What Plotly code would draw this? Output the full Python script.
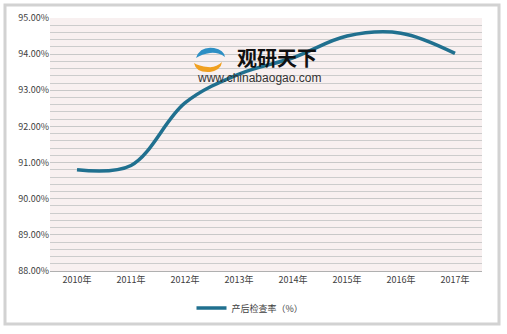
import plotly.graph_objects as go

years = ["2010年", "2011年", "2012年", "2013年", "2014年", "2015年", "2016年", "2017年"]
rate = [90.80, 90.92, 92.65, 93.45, 93.90, 94.50, 94.58, 94.02]
series_name = "产后检查率（%）"
y_ticks = [88, 89, 90, 91, 92, 93, 94, 95]
y_tick_text = ["88.00%", "89.00%", "90.00%", "91.00%", "92.00%", "93.00%", "94.00%", "95.00%"]

W, H = 507, 334
ML, MR, MT, MB = 50, 25, 18, 63
PW, PH = W - ML - MR, H - MT - MB


def px(x):
    return (x - ML) / PW


def py(y):
    return (H - MB - y) / PH


fig = go.Figure()
fig.add_trace(go.Scatter(
    x=years, y=rate, mode="lines", name=series_name,
    line=dict(color="#20708f", width=3.5, shape="spline", smoothing=1.0),
))

font_cn = "Noto Sans CJK SC"

fig.update_layout(
    width=W, height=H,
    margin=dict(l=ML, r=MR, t=MT, b=MB),
    paper_bgcolor="white",
    plot_bgcolor="#f8f0f0",
    showlegend=True,
    legend=dict(orientation="h", x=px(250), xanchor="center", y=py(308), yanchor="middle",
                itemwidth=30,
                font=dict(family=font_cn, size=9, color="#404040"), bgcolor="rgba(0,0,0,0)"),
    xaxis=dict(type="category", range=[-0.5, 7.5], showgrid=False, showline=True,
               linecolor="#b0b0b0", linewidth=1, ticks="",
               tickfont=dict(family=font_cn, size=9, color="#404040")),
    yaxis=dict(range=[88, 95], tickvals=y_ticks, ticktext=y_tick_text, showgrid=True,
               gridcolor="#c8c8c8", gridwidth=1, zeroline=False, showline=False, ticks="",
               tickfont=dict(family=font_cn, size=9, color="#404040"),
               minor=dict(dtick=0.2, tick0=88, showgrid=True, gridcolor="#cccccc", gridwidth=1)),
)

# outer frame
fig.add_shape(type="rect", xref="paper", yref="paper",
              x0=px(5), x1=px(499), y0=py(324), y1=py(5),
              line=dict(color="#d2d2d2", width=3), fillcolor="rgba(0,0,0,0)", layer="below")

# watermark logo (approximation)
fig.add_shape(type="path", xref="paper", yref="paper",
              path=f"M {px(196)},{py(58)} Q {px(200)},{py(46)} {px(214)},{py(48)} Q {px(224)},{py(50)} {px(225)},{py(57)} "
                   f"Q {px(218)},{py(52)} {px(210)},{py(53)} Q {px(202)},{py(54)} {px(196)},{py(58)} Z",
              line=dict(width=0), fillcolor="#2d8fc4")
fig.add_shape(type="path", xref="paper", yref="paper",
              path=f"M {px(194)},{py(63)} Q {px(196)},{py(73)} {px(210)},{py(72)} Q {px(221)},{py(70)} {px(222)},{py(62)} "
                   f"Q {px(216)},{py(68)} {px(208)},{py(67)} Q {px(199)},{py(66)} {px(194)},{py(63)} Z",
              line=dict(width=0), fillcolor="#f0a020")

fig.add_annotation(text="<b>观研天下</b>", xref="paper", yref="paper", x=px(277), y=py(58),
                   xanchor="center", yanchor="middle", showarrow=False,
                   font=dict(family=font_cn, size=20, color="#111111"))
fig.add_annotation(text="www.chinabaogao.com", xref="paper", yref="paper", x=px(259), y=py(78),
                   xanchor="center", yanchor="middle", showarrow=False,
                   font=dict(family="Liberation Sans", size=12, color="#333333"))

fig.write_html("out.html")
